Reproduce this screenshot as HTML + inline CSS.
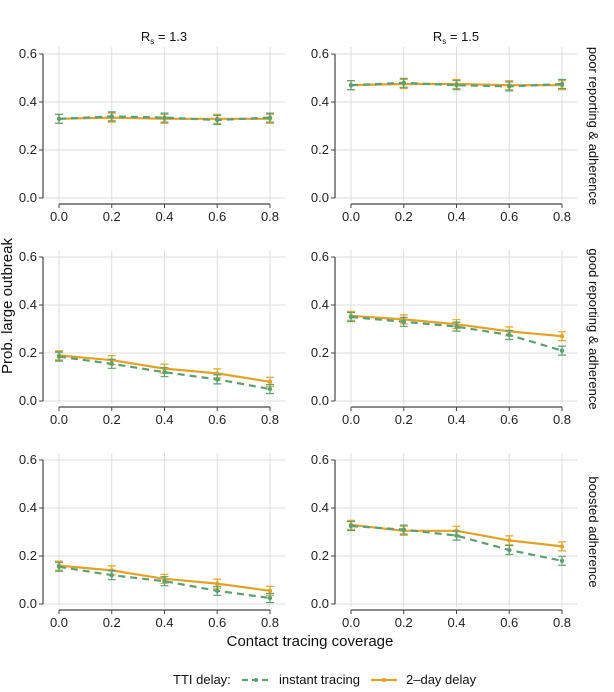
<!DOCTYPE html>
<html><head><meta charset="utf-8"><style>
body{margin:0;background:#fff}
svg{display:block;font-family:"Liberation Sans",sans-serif}
</style></head><body>
<svg id="s" width="614" height="692" viewBox="0 0 614 692" style="position:absolute;left:0;top:0">
<g id="panels"></g>
<text x="164" y="41" text-anchor="middle" font-size="13" fill="#111">R<tspan font-size="8" dy="3">s</tspan><tspan dy="-3"> = 1.3</tspan></text>
<text x="456" y="41" text-anchor="middle" font-size="13" fill="#111">R<tspan font-size="8" dy="3">s</tspan><tspan dy="-3"> = 1.5</tspan></text>
<text transform="translate(589,126) rotate(90)" text-anchor="middle" font-size="13" fill="#111">poor reporting &amp; adherence</text>
<text transform="translate(589,329) rotate(90)" text-anchor="middle" font-size="13" fill="#111">good reporting &amp; adherence</text>
<text transform="translate(589,532) rotate(90)" text-anchor="middle" font-size="13" fill="#111">boosted adherence</text>
<text transform="translate(12,306) rotate(-90)" text-anchor="middle" font-size="15" fill="#111">Prob. large outbreak</text>
<text x="310" y="646" text-anchor="middle" font-size="15" fill="#111">Contact tracing coverage</text>
<text x="173" y="684" font-size="13" fill="#111">TTI delay:</text>
<line x1="242" y1="680" x2="270" y2="680" stroke="#5d9e72" stroke-width="2.2" stroke-dasharray="6,4"/>
<circle cx="256" cy="680" r="2" fill="#5d9e72"/>
<text x="279" y="684" font-size="13" fill="#111">instant tracing</text>
<line x1="371" y1="680" x2="397" y2="680" stroke="#e0a328" stroke-width="2.2"/>
<circle cx="384" cy="680" r="2" fill="#e0a328"/>
<text x="406" y="684" font-size="13" fill="#111">2–day delay</text>
<g fill="#222" text-anchor="end" font-size="13">
<text x="37" y="58">0.6</text><text x="37" y="106">0.4</text><text x="37" y="154">0.2</text><text x="37" y="202">0.0</text>
<text x="329" y="58">0.6</text><text x="329" y="106">0.4</text><text x="329" y="154">0.2</text><text x="329" y="202">0.0</text>
<text x="37" y="261">0.6</text><text x="37" y="309">0.4</text><text x="37" y="357">0.2</text><text x="37" y="405">0.0</text>
<text x="329" y="261">0.6</text><text x="329" y="309">0.4</text><text x="329" y="357">0.2</text><text x="329" y="405">0.0</text>
<text x="37" y="464">0.6</text><text x="37" y="512">0.4</text><text x="37" y="560">0.2</text><text x="37" y="608">0.0</text>
<text x="329" y="464">0.6</text><text x="329" y="512">0.4</text><text x="329" y="560">0.2</text><text x="329" y="608">0.0</text>
</g>
<g fill="#222" text-anchor="middle" font-size="13">
<text x="59" y="221">0.0</text><text x="111.75" y="221">0.2</text><text x="164.5" y="221">0.4</text><text x="217.25" y="221">0.6</text><text x="270" y="221">0.8</text>
<text x="351" y="221">0.0</text><text x="403.75" y="221">0.2</text><text x="456.5" y="221">0.4</text><text x="509.25" y="221">0.6</text><text x="562" y="221">0.8</text>
<text x="59" y="424">0.0</text><text x="111.75" y="424">0.2</text><text x="164.5" y="424">0.4</text><text x="217.25" y="424">0.6</text><text x="270" y="424">0.8</text>
<text x="351" y="424">0.0</text><text x="403.75" y="424">0.2</text><text x="456.5" y="424">0.4</text><text x="509.25" y="424">0.6</text><text x="562" y="424">0.8</text>
<text x="59" y="627">0.0</text><text x="111.75" y="627">0.2</text><text x="164.5" y="627">0.4</text><text x="217.25" y="627">0.6</text><text x="270" y="627">0.8</text>
<text x="351" y="627">0.0</text><text x="403.75" y="627">0.2</text><text x="456.5" y="627">0.4</text><text x="509.25" y="627">0.6</text><text x="562" y="627">0.8</text>
</g>
</svg>
<script>
var P=document.getElementById('panels');
var X=[16,68.75,121.5,174.25,227];
var data=[
 [[.33,.34,.335,.325,.335],[.33,.335,.33,.33,.33]],
 [[.47,.48,.47,.465,.475],[.47,.475,.475,.47,.47]],
 [[.185,.155,.12,.09,.05],[.19,.17,.135,.115,.08]],
 [[.35,.33,.31,.275,.21],[.355,.34,.32,.29,.27]],
 [[.155,.12,.095,.055,.025],[.16,.14,.105,.085,.055]],
 [[.325,.31,.285,.225,.18],[.33,.305,.305,.265,.24]]];
var h='';
for(var i=0;i<6;i++){
 var ox=(i%2)?335:43, oy=Math.floor(i/2)*203;
 var g='<g transform="translate('+ox+','+oy+')">';
 for(var k=0;k<4;k++){var y=198-k*48;g+='<line x1="0" x2="242" y1="'+y+'" y2="'+y+'" stroke="#ddd" stroke-width="1"/>';}
 X.forEach(function(x){g+='<line x1="'+x+'" x2="'+x+'" y1="47" y2="201" stroke="#ddd" stroke-width="1"/>';});
 g+='<line x1="0" x2="0" y1="54" y2="198" stroke="#444" stroke-width="1.2"/>';
 for(var k=0;k<4;k++){var y=198-k*48;g+='<line x1="-4" x2="0" y1="'+y+'" y2="'+y+'" stroke="#444"/>';}
 g+='<line x1="16" x2="227" y1="204" y2="204" stroke="#444" stroke-width="1.2"/>';
 X.forEach(function(x){g+='<line x1="'+x+'" x2="'+x+'" y1="204" y2="208" stroke="#444"/>';});
 var cols=['#5d9e72','#e0a328'];
 [1,0].forEach(function(s){
  var c=cols[s],pts=data[i][s].map(function(v,j){return X[j]+','+(198-240*v).toFixed(1)}).join(' ');
  data[i][s].forEach(function(v,j){var y=198-240*v,x=X[j];
   g+='<path d="M'+(x-4)+','+(y-4.5)+'h8M'+x+','+(y-4.5)+'v9M'+(x-4)+','+(y+4.5)+'h8" stroke="'+c+'" stroke-width="1.2" fill="none"/>';
   g+='<circle cx="'+x+'" cy="'+y+'" r="2.2" fill="'+c+'"/>';});
  g+='<polyline points="'+pts+'" fill="none" stroke="'+c+'" stroke-width="2.2"'+(s==0?' stroke-dasharray="7,5"':'')+'/>';
 });
 g+='</g>';h+=g;
}
P.innerHTML=h;
</script>
</body></html>
